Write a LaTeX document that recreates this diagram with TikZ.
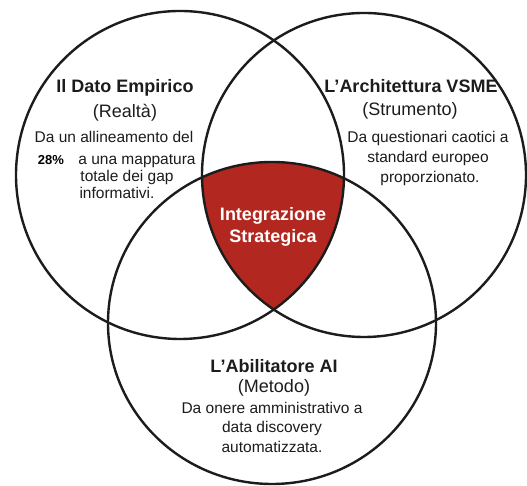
\documentclass[tikz,border=0pt]{standalone}
\usepackage{fontspec}
\setmainfont{Liberation Sans}
\definecolor{redfill}{RGB}{178,40,32}
\definecolor{ink}{RGB}{28,28,28}
\begin{document}
\begin{tikzpicture}[x=1pt,y=1pt,
  ring/.style={draw=ink,line width=2.4pt},
  ttl/.style={font=\fontsize{18}{20}\selectfont\bfseries,text=ink,inner sep=0pt,anchor=base},
  sub/.style={font=\fontsize{18}{20}\selectfont,text=ink,inner sep=0pt,anchor=base},
  body/.style={font=\fontsize{15.5}{18}\selectfont,text=ink,inner sep=0pt,anchor=base},
  mid/.style={font=\fontsize{18}{20}\selectfont\bfseries,text=white,inner sep=0pt,anchor=base}]
\useasboundingbox (0,0) rectangle (527,486);
\fill[white] (0,0) rectangle (527,486);
% centers
\coordinate (cL) at (180,311);
\coordinate (cR) at (364,311);
\coordinate (cB) at (272,163);
% red triple intersection
\begin{scope}
  \clip (cL) circle[radius=164];
  \clip (cR) circle[radius=162];
  \fill[redfill] (cB) ellipse[x radius=164,y radius=161];
\end{scope}
\draw[ring] (cL) circle[radius=164];
\draw[ring] (cR) circle[radius=162];
\draw[ring] (cB) ellipse[x radius=164,y radius=161];
% left circle
\node[ttl] (lt) at (125,486-93) {Il Dato Empirico};
\node[sub] (ls) at (125,486-118) {(Realtà)};
\node[body] (l1) at (114,486-143) {Da un allineamento del};
\node[body] (l2) at (137,486-165) {a una mappatura};
\node[font=\fontsize{13}{15}\selectfont\bfseries,text=black,inner sep=0pt,anchor=base] (pct) at (51,486-165) {28\%};
\node[body] (l3) at (127,486-182) {totale dei gap};
\node[body] (l4) at (117,486-199) {informativi.};
% right circle
\node[ttl] (rt) at (411,486-93) {L’Architettura VSME};
\node[sub] (rs) at (410,486-116) {(Strumento)};
\node[body] (r1) at (428,486-143) {Da questionari caotici a};
\node[body] (r2) at (428,486-163) {standard europeo};
\node[body] (r3) at (430,486-183) {proporzionato.};
% center
\node[mid] (c1) at (273,486-221) {Integrazione};
\node[mid] (c2) at (273,486-243) {Strategica};
% bottom circle
\node[ttl] (bt) at (274,486-373) {L’Abilitatore AI};
\node[sub] (bs) at (274,486-393) {(Metodo)};
\node[body] (b1) at (272,486-414) {Da onere amministrativo a};
\node[body] (b2) at (272,486-433) {data discovery};
\node[body] (b3) at (272,486-453) {automatizzata.};
\end{tikzpicture}
\end{document}
